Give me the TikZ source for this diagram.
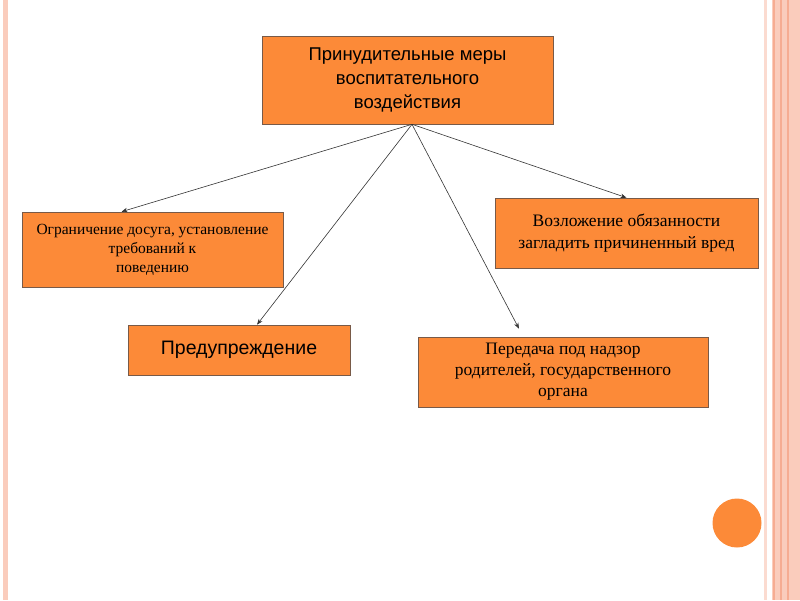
\documentclass[tikz,border=0pt]{standalone}
\usepackage{fontspec}
\setmainfont{Liberation Serif}
\newfontfamily\sansfnt{Liberation Sans}
\usetikzlibrary{arrows.meta}
\definecolor{boxorange}{RGB}{252,138,56}
\definecolor{boxedge}{RGB}{120,90,72}
\definecolor{stripe}{RGB}{250,204,188}
\definecolor{stripedark}{RGB}{246,172,146}
\begin{document}
\begin{tikzpicture}[x=1pt,y=-1pt,
  mera/.style={draw=boxedge,fill=boxorange,line width=0.6pt,align=center,inner sep=0pt},
  link/.style={draw=black!80,line width=0.6pt,-{Stealth[length=6pt,width=4.5pt]}}]
  \useasboundingbox (0,0) rectangle (800,600);
  % page frame
  \fill[stripe] (3,0) rectangle (8,600);
  \fill[stripe!70] (764,0) rectangle (767,600);
  \fill[stripe] (772,0) rectangle (800,600);
  \foreach \x in {773,780,787} \fill[stripedark] (\x,0) rectangle (\x+1.5,600);
  \fill[boxorange] (737,523) circle (24.5pt);
  % boxes
  \node[mera,minimum width=291,minimum height=88,font=\sansfnt\fontsize{18.5}{24}\selectfont] (mery) at (407.5,80) {Принудительные меры\\воспитательного\\воздействия};
  \node[mera,minimum width=261,minimum height=75,font=\fontsize{15.5}{19}\selectfont] (dosug) at (152.5,249.5) {Ограничение досуга, установление\\требований к\\поведению};
  \node[mera,minimum width=222,minimum height=50,font=\sansfnt\fontsize{19.5}{24}\selectfont] (pred) at (239,350) {Предупреждение};
  \node[mera,minimum width=263,minimum height=70,font=\fontsize{17.5}{22}\selectfont] (vred) at (626.5,233) {Возложение обязанности\\загладить причиненный вред};
  \node[mera,minimum width=290,minimum height=70,font=\fontsize{17.5}{21}\selectfont] (nadzor) at (563,372) {Передача под надзор\\родителей, государственного\\органа};
  % arrows
  \coordinate (src) at ([xshift=4.5pt]mery.south);
  \draw[link] (src) -- ([xshift=-31pt]dosug.north);
  \draw[link] (src) -- ([xshift=18pt]pred.north);
  \draw[link] (src) -- (vred.north);
  \draw[link] (src) -- ([xshift=-44pt,yshift=8pt]nadzor.north);
\end{tikzpicture}
\end{document}
